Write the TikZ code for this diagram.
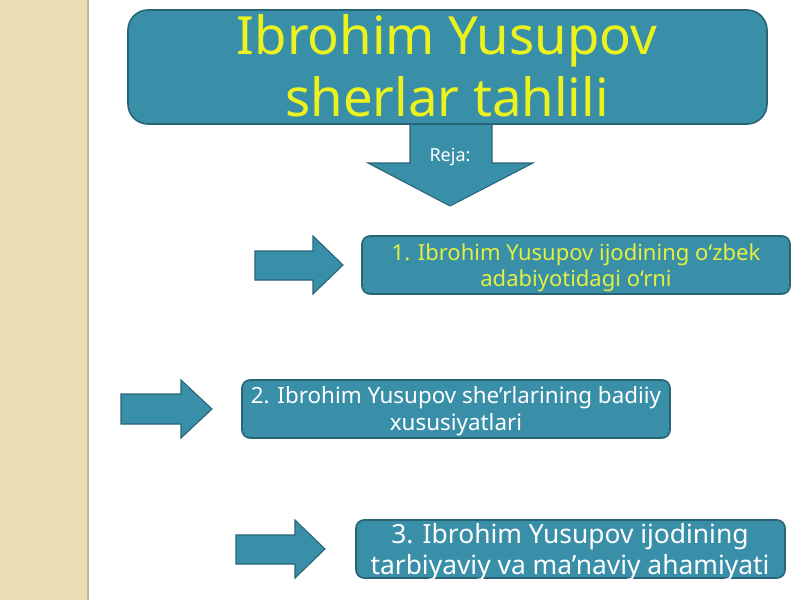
\documentclass[tikz,border=0pt]{standalone}
\usepackage{fontspec}
\setmainfont{Noto Sans}
\definecolor{strip}{RGB}{236,220,181}
\definecolor{stripedge}{RGB}{196,180,145}
\definecolor{teal}{RGB}{58,143,168}
\definecolor{tealdark}{RGB}{40,100,118}
\definecolor{titleyellow}{RGB}{236,242,30}
\definecolor{boxyellow}{RGB}{228,240,64}
\tikzset{
  panel/.style={fill=teal, draw=tealdark, line width=1.2pt, rounded corners=6pt},
  blockarrow/.style={fill=teal, draw=tealdark, line width=0.8pt, line join=miter},
  itemtext/.style={align=center, inner sep=0pt, font=\fontsize{16.5}{19.5}\selectfont}
}
\begin{document}
\begin{tikzpicture}[x=0.75pt,y=-0.75pt]
\useasboundingbox (0,0) rectangle (800,600);
\fill[white] (0,0) rectangle (800,600);
% left strip
\fill[strip] (0,0) rectangle (87,600);
\fill[stripedge] (87,0) rectangle (89,600);
% down arrow (behind title)
\draw[blockarrow] (410,115) -- (492,115) -- (492,163) -- (533,163) -- (450,206) -- (368,163) -- (410,163) -- cycle;
\node[text=white, inner sep=0pt, font=\fontsize{13.5}{16}\selectfont] (reja) at (450,157) {Reja:};
% title box
\draw[panel, rounded corners=15pt] (128,10) rectangle (767,124);
\node[text=titleyellow, align=center, inner sep=0pt, font=\fontsize{39.5}{46.5}\selectfont] (title) at (447,66) {Ibrohim Yusupov\\sherlar tahlili};
% item 1
\draw[blockarrow] (255,251) -- (313,251) -- (313,236) -- (343,265) -- (313,294) -- (313,280) -- (255,280) -- cycle;
\draw[panel] (362,236) rectangle (790,294);
\node[itemtext, text=boxyellow] (item1) at (576,268) {1. Ibrohim Yusupov ijodining o‘zbek\\adabiyotidagi o‘rni};
% item 2
\draw[blockarrow] (121,394) -- (181,394) -- (181,380) -- (212,409) -- (181,438) -- (181,424) -- (121,424) -- cycle;
\draw[panel] (242,380) rectangle (670,438);
\node[itemtext, text=white, font=\fontsize{16.8}{20}\selectfont] (item2) at (456,411) {2. Ibrohim Yusupov she’rlarining badiiy\\xususiyatlari};
% item 3
\draw[blockarrow] (236,535) -- (295,535) -- (295,520) -- (325,549) -- (295,578) -- (295,564) -- (236,564) -- cycle;
\draw[panel] (356,520) rectangle (785,578);
\node[itemtext, text=white, font=\fontsize{19.8}{23.5}\selectfont] (item3) at (570,552) {3. Ibrohim Yusupov ijodining\\tarbiyaviy va ma’naviy ahamiyati};
\end{tikzpicture}
\end{document}
